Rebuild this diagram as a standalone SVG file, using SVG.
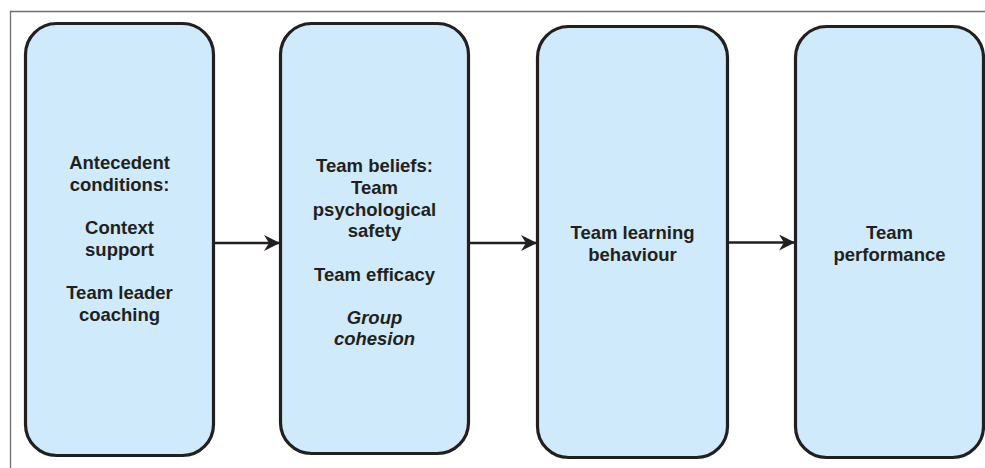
<svg xmlns="http://www.w3.org/2000/svg" width="985" height="468" viewBox="0 0 985 468">
<defs>
<style>
.box{fill:#cfeafa;stroke:#231f20;stroke-width:3.2}
.t{font-family:"Liberation Sans",Arial,sans-serif;font-weight:bold;font-size:18.5px;fill:#231f20;text-anchor:middle}
.i{font-style:italic}
.c{stroke:#231f20;stroke-width:2.6;fill:none}
</style>
<marker id="ah" viewBox="0 0 16 16" refX="15" refY="8" markerWidth="16" markerHeight="16" markerUnits="userSpaceOnUse" orient="auto">
<path d="M0,0 L16,8 L0,16 L5,8 Z" fill="#231f20"/>
</marker>
</defs>
<rect width="985" height="468" fill="#fff"/>
<path d="M10.5,468 V11.5 H985" fill="none" stroke="#6d6e70" stroke-width="1.3"/>
<g id="n1">
<rect class="box" x="25.5" y="23.5" width="188" height="432" rx="31" ry="31"/>
<text class="t"><tspan x="119.5" y="169">Antecedent</tspan><tspan x="119.5" y="191">conditions:</tspan><tspan x="119.5" y="234">Context</tspan><tspan x="119.5" y="256">support</tspan><tspan x="119.5" y="299">Team leader</tspan><tspan x="119.5" y="321">coaching</tspan></text>
</g>
<g id="n2">
<rect class="box" x="280.5" y="23.5" width="188" height="430" rx="31" ry="31"/>
<text class="t"><tspan x="374.5" y="172">Team beliefs:</tspan><tspan x="374.5" y="194">Team</tspan><tspan x="374.5" y="215.5">psychological</tspan><tspan x="374.5" y="237">safety</tspan><tspan x="374.5" y="281">Team efficacy</tspan><tspan class="i" x="374.5" y="324">Group</tspan><tspan class="i" x="374.5" y="345">cohesion</tspan></text>
</g>
<g id="n3">
<rect class="box" x="537.5" y="26.5" width="190" height="431" rx="31" ry="31"/>
<text class="t"><tspan x="632.5" y="239">Team learning</tspan><tspan x="632.5" y="261">behaviour</tspan></text>
</g>
<g id="n4">
<rect class="box" x="795.5" y="26.5" width="188" height="431" rx="31" ry="31"/>
<text class="t"><tspan x="889.5" y="239">Team</tspan><tspan x="889.5" y="261">performance</tspan></text>
</g>
<g id="connectors">
<line class="c" x1="215" y1="243" x2="279" y2="243" marker-end="url(#ah)"/>
<line class="c" x1="470" y1="243" x2="536" y2="243" marker-end="url(#ah)"/>
<line class="c" x1="729" y1="242.5" x2="794" y2="242.5" marker-end="url(#ah)"/>
</g>
</svg>
